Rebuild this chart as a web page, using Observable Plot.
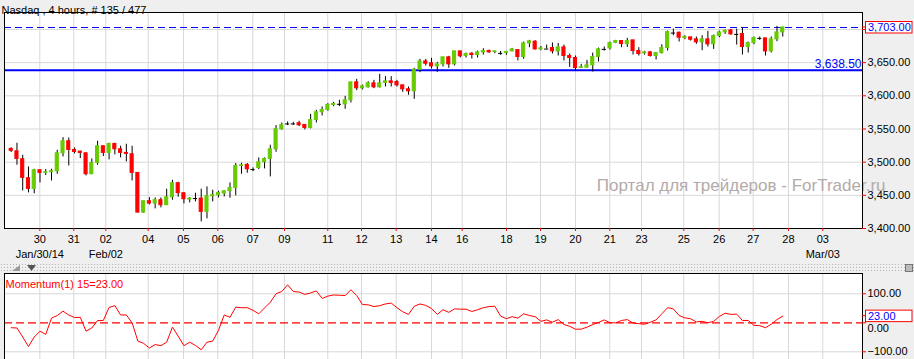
<!DOCTYPE html>
<html><head><meta charset="utf-8">
<script src="https://cdn.jsdelivr.net/npm/d3@7"></script>
<script src="https://cdn.jsdelivr.net/npm/@observablehq/plot@0.6"></script>
<style>
html,body{margin:0;padding:0;background:#efefef;}
#wrap{position:relative;width:914px;height:359px;overflow:hidden;background:#efefef;font-family:"Liberation Sans",Arial,sans-serif;}
#main{position:absolute;left:0;top:0;}
#mom{position:absolute;left:0;top:265px;}
#split{position:absolute;left:0;top:263px;width:914px;height:9px;z-index:2;background-color:#efefef;background-image:radial-gradient(#b4b4b4 0.7px, transparent 0.9px);background-size:3px 3px;}
#split svg{position:absolute;left:0;top:0;}
</style></head><body>
<div id="wrap"><div id="main"></div><div id="mom"></div>
<div id="split"><svg width="914" height="9">
<polygon points="12,8 20,2 20,8" fill="#9a9a9a"/>
<polygon points="27,2 36,2 31.5,8" fill="#555"/>
<rect x="905.5" y="1.5" width="7" height="7" fill="#bbb" stroke="#777"/>
</svg></div></div>
<script>
const title = "Nasdaq , 4 hours, # 135 / 477";
const watermark = "Портал для трейдеров - ForTrader.ru";
const momLabel = "Momentum(1) 15=23.00";

const opens = [3520,3516.4,3504.4,3475.8,3459.7,3487.8,3483.8,3484.8,3486.3,3513.4,
3531.5,3518.4,3515.9,3513.4,3481.8,3498.8,3524,3513.9,3527.5,3519.4,
3513.9,3511.9,3483.8,3424,3441.1,3437.6,3442.6,3435.1,3447.1,3468.2,
3453.2,3443.6,3445.1,3445.1,3425.1,3448.6,3450.2,3452.7,3456.2,3461.2,
3494.3,3495.8,3488.8,3491.3,3499.9,3504.9,3519.4,3549.6,3557.6,3557.6,
3558.6,3556.1,3551.6,3563.6,3575.2,3578.7,3586.2,3587.2,3587.2,3593.2,
3620.3,3611.3,3612.8,3618.8,3612.8,3619.3,3621.8,3620.8,3615.8,3609.8,
3606.8,3639.4,3651.9,3648.9,3644.4,3647.4,3658,3647.4,3667,3660,
3663.5,3661.5,3665.5,3667.5,3666,3664,3664.5,3667,3669,3658.5,
3679,3681.6,3670,3670.5,3672,3667,3673,3660,3657,3642,
3642.4,3645.9,3658.5,3670,3671.5,3680,3682.6,3678,3683.6,3667.5,
3664,3665.5,3660,3664.5,3672,3694.6,3695.1,3687.1,3688.1,3685.1,
3680.6,3685.1,3677.6,3690.1,3695.6,3698.6,3692.6,3693.1,3673.5,3679.6,
3686.6,3686.6,3667,3685.1,3695.6];
const highs = [3521.5,3528.5,3510.4,3492.8,3489.3,3488,3488.8,3489.3,3517.9,3537,
3536.5,3521.4,3516.4,3513.4,3504.9,3531.5,3524,3528.5,3528.5,3524,
3527,3524,3483.8,3441.1,3446.6,3446.1,3446.1,3459.2,3472.7,3469.7,
3453.2,3446.6,3453.2,3459.2,3462.7,3457.7,3456.2,3456.7,3468.7,3497.9,
3498.4,3497.9,3491.3,3506.4,3506.4,3525.5,3555.1,3559.1,3560.6,3560.1,
3561.6,3556.6,3572.1,3578.2,3583.2,3588.2,3590.2,3593.2,3599.2,3620.3,
3624.8,3616.3,3621.3,3623.3,3632.4,3628.9,3628.9,3623.3,3615.8,3613.3,
3641.4,3655,3655,3656.5,3650.4,3658,3659.5,3667,3667,3664.5,
3665,3667.5,3671,3669,3667.5,3667,3667,3671.5,3669,3681.1,
3683.6,3683.1,3674.5,3676.5,3679.6,3679,3676.5,3663,3660,3647.4,
3653.5,3664.5,3672,3673.5,3681.1,3683.6,3682.6,3686.6,3683.6,3672.5,
3667,3667,3664.5,3677,3697.6,3700.6,3696.1,3690.6,3688.1,3688.6,
3690.6,3697.1,3691.6,3697.6,3699.1,3700.1,3700.6,3701.6,3681.1,3688.6,
3688.6,3686.6,3688.6,3704.7,3703.5];
const lows = [3514.5,3495.3,3456.7,3453.7,3452.2,3468.7,3479.8,3471.7,3481.8,3507.9,
3494.3,3512.4,3505.4,3479.3,3481.3,3495.3,3508.4,3503.4,3510.9,3506.4,
3500.4,3471.7,3423.5,3423,3435.6,3429.6,3431.1,3434.6,3442.6,3447.1,
3437.1,3438.6,3440.1,3410,3414.5,3440.1,3446.1,3447.6,3445.6,3449.2,
3481.8,3483.3,3485.8,3488.8,3489.8,3477.8,3514.9,3548.1,3555.1,3555.6,
3553.6,3548.6,3550.1,3559.1,3569.6,3576.7,3583.7,3583.7,3579.7,3589.2,
3607.8,3608.8,3611.8,3610.8,3611.8,3613.3,3613.3,3613.3,3605.3,3600.8,
3594.7,3634.9,3644.9,3640.4,3635.4,3643.4,3641.4,3644.9,3657,3657,
3655.5,3657,3661.5,3664,3663.5,3661,3661,3666.5,3652.5,3655,
3672.5,3669,3668,3670.5,3663,3660,3652.5,3642.9,3637.4,3641,
3641.9,3635.9,3651,3667.5,3669,3678.6,3672.5,3673,3661.5,3660,
3661.5,3658.5,3654,3663,3667.5,3690.6,3681.1,3684.6,3682.6,3677.6,
3668,3673.5,3670,3687.6,3692.6,3691.6,3676.5,3661.5,3664.5,3677,
3683.6,3660,3664.5,3681.6,3688.6];
const closes = [3517,3504.9,3476.3,3459.7,3487.8,3483.8,3484.8,3486.3,3513.4,3531.5,
3518.4,3515.4,3513.9,3481.8,3498.8,3524,3513.9,3527.5,3519.4,3513.9,
3512.4,3483.8,3424,3441.1,3437.6,3442.6,3435.1,3447.1,3468.2,3453.2,
3444.1,3445.1,3445.1,3425.1,3448.6,3450.2,3453.7,3456.2,3461.2,3494.3,
3495.3,3489.3,3488.8,3499.9,3504.9,3519.4,3549.6,3555.6,3557.6,3557.6,
3555.6,3551.6,3563.6,3575.2,3578.7,3586.2,3587.7,3587.2,3593.2,3620.3,
3611.3,3614.3,3618.8,3612.8,3618.8,3621.8,3619.3,3615.8,3609.8,3606.8,
3639.4,3651.9,3648.4,3644.4,3647.4,3658,3647.4,3667,3659.5,3663,
3661.5,3665.5,3667.5,3665.5,3667,3664,3666,3670,3658.5,3679,
3682.1,3670,3671.5,3670.5,3667,3673,3660,3657,3641.9,3643,
3645.9,3658.5,3670,3670,3679.6,3682.6,3678,3682.6,3667.5,3663,
3665.5,3660,3664.5,3672,3696.1,3694.6,3687.6,3688.6,3684.6,3680.6,
3685.1,3677.6,3690.1,3695.6,3698.1,3692.6,3692.6,3673.5,3679.6,3687.1,
3686.6,3667,3685.1,3695.6,3703];
const momentum = [-17,-18,-49,-82,-49,-29,-40,16,25,40,
27,18,19,-29,-18,8,8,53,59,27,
27,0,-63,-71,-87,-75,-79,-67,-15,-46,
-79,-67,-78,-93,-67,-63,-26,27,19,54,
52,52,43,31,51,71,100,108,131,108,
106,98,103,110,84,92,96,95,94,114,
94,63,62,56,59,65,68,52,38,29,
57,65,60,49,29,45,36,48,47,47,
39,45,52,56,57,23,14,21,16,31,
25,21,5,10,2,11,-6,-12,-22,-22,
-15,-6,1,10,0,0,8,11,-1,-3,
-5,2,10,31,52,48,25,17,14,3,
5,0,5,22,33,29,30,8,8,-9,
-10,-17,-5,11,23];

const xTickPos = [4.97,10.87,16.43,23.79,29.92,35.88,41.96,47.46,54.98,60.84,66.86,72.99,78.32,86.02,91.93,98.0,103.96,109.47,116.81,122.96,128.86,134.99,140.95];
const xTickLabels = ["30","31","02","04","05","06","07","09","11","12","13","14","16","18","19","20","21","23","25","26","27","28","03"];
const datePos = [4.97,16.43,140.95];
const dateLabels = ["Jan/30/14","Feb/02","Mar/03"];
const priceTicks = [3400,3450,3500,3550,3600,3650,3700];
const momTicks = [-100,0,100];
const supportLevel = 3638.5;
const lastPrice = 3703;
const momLast = 23;

const xDomain = [-1.164, 147.85];
const fmt = d3.format(",.2f");
const fmt2 = d3.format(".2f");
const candles = opens.map((o,i)=>({i, o, h: highs[i], l: lows[i], c: closes[i]}));
const ticks = xTickPos.map((x,k)=>({x, label: xTickLabels[k]}));
const dates = datePos.map((x,k)=>({x, label: dateLabels[k]}));
const style = {background:"transparent", fontFamily:"'Liberation Sans', Arial, sans-serif", fontSize:"11px", overflow:"visible", color:"black"};
const colorOf = d => d.c > d.o ? "#66cc00" : "#ff0000";

const main = Plot.plot({
  width:914, height:262, marginLeft:4, marginRight:52, marginTop:12, marginBottom:34,
  style,
  x:{domain:xDomain, axis:null},
  y:{domain:[3400,3725.6], axis:null},
  marks:[
    Plot.frame({fill:"white"}),
    Plot.ruleX(ticks, {x:"x", stroke:"#d8d8d8"}),
    Plot.ruleY(priceTicks, {y:d=>d, stroke:"#d8d8d8"}),
    Plot.text([watermark], {text:d=>d, frameAnchor:"bottom-right", dx:23, dy:-38, textAnchor:"end", fill:"#b3aaaa", fontSize:17}),
    Plot.ruleY([lastPrice], {y:d=>d, stroke:"#0000ff", strokeDasharray:"7,4"}),
    Plot.ruleY([supportLevel], {y:d=>d, stroke:"#0000ff", strokeWidth:2}),
    Plot.text([supportLevel], {x:xDomain[1], y:d=>d, text:d=>fmt(d), textAnchor:"end", dx:-1, dy:-6, fill:"#0000ff", fontSize:12}),
    Plot.ruleX(candles, {x:"i", y1:"l", y2:"h", stroke:"black"}),
    Plot.rect(candles.filter(d=>d.c!==d.o), {x1:d=>d.i-0.27, x2:d=>d.i+0.27, y1:"o", y2:"c", fill:colorOf, stroke:colorOf, strokeWidth:1}),
    Plot.ruleY(candles.filter(d=>d.c===d.o), {y:"o", x1:d=>d.i-0.36, x2:d=>d.i+0.36, stroke:"black"}),
    Plot.frame({stroke:"black"}),
    Plot.ruleY(priceTicks, {y:d=>d, x1:xDomain[1], x2:xDomain[1]+0.7, stroke:"#ff0000"}),
    Plot.text(priceTicks.filter(d=>Math.abs(d-lastPrice)>8), {x:xDomain[1], y:d=>d, text:d=>fmt(d), textAnchor:"start", dx:5, fill:"black"}),
    Plot.ruleX(ticks, {x:"x", y1:3400, y2:3395.5, stroke:"#ff0000"}),
    Plot.text(ticks, {x:"x", y:3400, text:"label", dy:11, fill:"black"}),
    Plot.text(dates, {x:"x", y:3400, text:"label", dy:26, fill:"black"}),
    Plot.text([title], {text:d=>d, frameAnchor:"top-left", dx:-3, dy:-6.5, textAnchor:"start", fill:"black"})
  ]
});

const mom = Plot.plot({
  width:914, height:94, marginLeft:4, marginRight:52, marginTop:8, marginBottom:0,
  style,
  x:{domain:xDomain, axis:null},
  y:{domain:[-126.6,170], axis:null},
  marks:[
    Plot.frame({fill:"white"}),
    Plot.ruleX(ticks, {x:"x", stroke:"#d8d8d8"}),
    Plot.ruleY(momTicks.filter(d=>d!==0), {y:d=>d, stroke:"#d8d8d8"}),
    Plot.ruleY([0], {y:d=>d, stroke:"#ff0000", strokeDasharray:"8,4", strokeWidth:1.3}),
    Plot.line(momentum, {x:(d,i)=>i, y:d=>d, stroke:"#ff0000", strokeWidth:1}),
    Plot.ruleY([170], {y:d=>d, stroke:"black"}),
    Plot.ruleX(xDomain, {x:d=>d, stroke:"black"}),
    Plot.ruleY(momTicks, {y:d=>d, x1:xDomain[1], x2:xDomain[1]+0.7, stroke:"#ff0000"}),
    Plot.text(momTicks.filter(d=>Math.abs(d-momLast)>40), {x:xDomain[1], y:d=>d, text:d=>fmt2(d), textAnchor:"start", dx:5, fill:"black"}),
    Plot.text(momTicks.filter(d=>Math.abs(d-momLast)<=40), {x:xDomain[1], y:d=>d, text:d=>fmt2(d), textAnchor:"start", dx:5, dy:5.5, fill:"black"}),
    Plot.text([momLabel], {text:d=>d, frameAnchor:"top-left", dx:1, dy:7, textAnchor:"start", fill:"#ff0000"})
  ]
});

function valueBox(chart, value, label) {
  const sx = chart.scale("x"), sy = chart.scale("y");
  const x0 = sx.range[1];
  const y = sy.apply(value);
  const g = d3.select(chart).append("g");
  g.append("line").attr("x1", x0).attr("x2", x0+4).attr("y1", y).attr("y2", y).attr("stroke", "#ff0000");
  g.append("rect").attr("x", x0+3.5).attr("y", y-5.5).attr("width", 46.5).attr("height", 11.5)
    .attr("fill", "white").attr("stroke", "#ff0000");
  g.append("text").attr("x", x0+6).attr("y", y).attr("dy", "0.36em").attr("text-anchor", "start")
    .attr("fill", "#0000ff").text(label);
}
valueBox(main, lastPrice, fmt(lastPrice));
valueBox(mom, momLast, fmt2(momLast));

document.getElementById("main").appendChild(main);
document.getElementById("mom").appendChild(mom);
</script>
</body></html>
